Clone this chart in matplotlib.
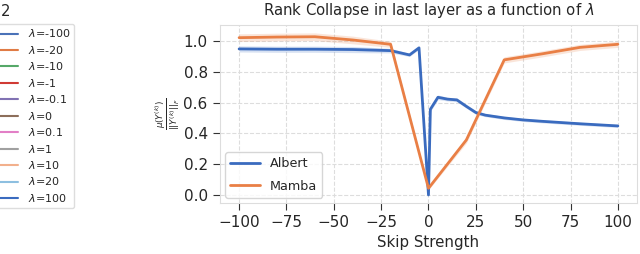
import matplotlib
matplotlib.use('Agg')
import matplotlib.pyplot as plt
import numpy as np
import seaborn as sns

sns.set_style('whitegrid', {'grid.linestyle': '--', 'xtick.bottom': True, 'ytick.left': True,
                            'axes.edgecolor': '#dddddd', 'grid.color': '#dddddd'})
plt.rcParams['font.family'] = ['DejaVu Sans']

# skip strength values and rank collapse measure
albert_x = [-100, -80, -60, -40, -20, -10, -5, 0, 1, 5, 10, 15, 20, 25, 30, 40, 50, 60, 70, 80, 90, 100]
albert_y = [0.948, 0.946, 0.946, 0.944, 0.937, 0.909, 0.955, 0.0, 0.556, 0.634, 0.622, 0.617,
            0.575, 0.535, 0.518, 0.50, 0.487, 0.478, 0.470, 0.462, 0.455, 0.448]
albert_err = [0.02, 0.02, 0.02, 0.02, 0.015, 0.01, 0.01, 0.01, 0.015, 0.015, 0.012, 0.012,
              0.012, 0.012, 0.01, 0.01, 0.01, 0.01, 0.01, 0.01, 0.01, 0.01]

mamba_x = [-100, -80, -60, -40, -20, 0, 20, 40, 60, 80, 100]
mamba_y = [1.021, 1.025, 1.027, 1.006, 0.978, 0.043, 0.357, 0.877, 0.916, 0.958, 0.978]
mamba_err = [0.025, 0.025, 0.025, 0.025, 0.02, 0.01, 0.02, 0.02, 0.02, 0.02, 0.02]

# legend of the (cropped) neighbouring panel
lambdas = ['-100', '-20', '-10', '-1', '-0.1', '0', '0.1', '1', '10', '20', '100']
lambda_colors = ['#4a72b8', '#e07b45', '#55a868', '#d03a34', '#8172b3', '#8c6e5a',
                 '#e27fc6', '#a0a0a0', '#f2b08c', '#8dbfe0', '#3a6bbf']

c_albert = '#3a6bbf'
c_mamba = '#e97f45'

fig = plt.figure(figsize=(6.4, 2.54), dpi=100)
ax = fig.add_axes([0.344, 0.201, 0.651, 0.701])

a_y = np.array(albert_y)
a_e = np.array(albert_err)
m_y = np.array(mamba_y)
m_e = np.array(mamba_err)
ax.fill_between(albert_x, a_y - a_e, a_y + a_e, color=c_albert, alpha=0.2, lw=0)
ax.fill_between(mamba_x, m_y - m_e, m_y + m_e, color=c_mamba, alpha=0.2, lw=0)
ax.plot(albert_x, albert_y, color=c_albert, lw=2, label='Albert')
ax.plot(mamba_x, mamba_y, color=c_mamba, lw=2, label='Mamba')

ax.set_xlim(-110, 110)
ax.set_ylim(-0.052, 1.104)
ax.set_xticks([-100, -75, -50, -25, 0, 25, 50, 75, 100])
ax.set_yticks([0.0, 0.2, 0.4, 0.6, 0.8, 1.0])
ax.tick_params(labelsize=11, length=5, color='#333333', pad=4)
ax.set_xlabel('Skip Strength', fontsize=10.8, labelpad=3)
ax.set_ylabel(r'$\frac{\mu(Y^{(k)})}{||Y^{(k)}||_F}$', fontsize=9, labelpad=1)
ax.set_title(r'Rank Collapse in last layer as a function of $\lambda$', fontsize=10.7, pad=7)
ax.legend(loc='lower left', fontsize=9.2, handlelength=2.3, handletextpad=0.8,
          labelspacing=0.75, borderaxespad=0.4)

# cropped legend + title tail from the left panel
handles = [plt.Line2D([], [], color=c, lw=1.5) for c in lambda_colors]
labels = [r'$\lambda$=' + l for l in lambdas]
fig.legend(handles, labels, loc='upper right', bbox_to_anchor=(80 / 640, 1 - 18 / 254),
           fontsize=8, handlelength=3.4, labelspacing=0.4, borderpad=0.35,
           handletextpad=0.9, frameon=True, edgecolor='#dddddd', framealpha=1)
fig.text(0.002, 1 - 12 / 254, '2', fontsize=10.7, va='center', ha='left')

fig.savefig('out.png', dpi=100)
